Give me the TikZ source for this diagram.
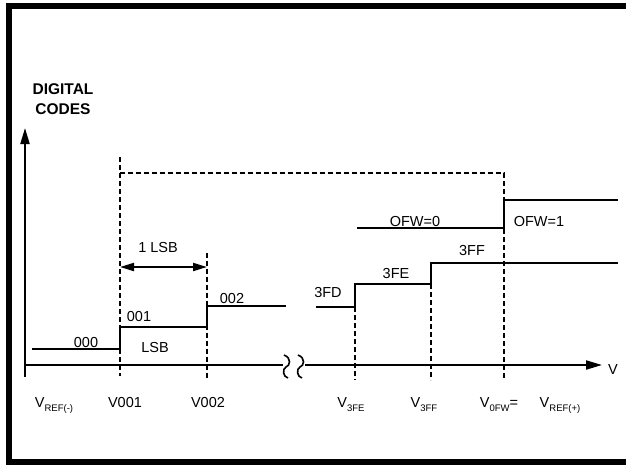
\documentclass[tikz,border=0pt]{standalone}
\usepackage{fontspec}
\setmainfont{Liberation Sans}
\usetikzlibrary{arrows.meta,positioning}
\tikzset{
  lbl/.style={font=\fontsize{14.5}{16}\selectfont, inner sep=0pt, anchor=base},
  hd/.style={font=\fontsize{15.5}{17}\selectfont\bfseries, inner sep=0pt, anchor=base},
  stair/.style={draw, line width=2pt},
  guide/.style={draw, line width=1.6pt, dash pattern=on 5pt off 3pt},
  axis/.style={draw, line width=2pt, -{Triangle[length=16pt,width=9pt]}},
  dim/.style={draw, line width=2pt, {Triangle[length=14pt,width=8pt]}-{Triangle[length=14pt,width=8pt]}},
  brk/.style={draw, line width=1.6pt}
}
\newcommand{\vsub}[1]{\raisebox{-4pt}{\fontsize{9.5}{10}\selectfont #1}}

\begin{document}
\begin{tikzpicture}[x=1pt, y=-1pt]
\useasboundingbox (0,0) rectangle (626,464);
% frame (open to the right)
\draw[line width=6pt] (650,6) -- (9,6) -- (9,461.5) -- (650,461.5);

% axes
\coordinate (ybot) at (25,377);
\coordinate (ytip) at (25,128);
\coordinate (org) at (25,365);
\coordinate (brkL) at (283,365);
\coordinate (brkR) at (305,365);
\coordinate (xtip) at (602,365);
\draw[axis] (ybot) -- (ytip);
\draw[line width=2pt] (org) -- (brkL);
\draw[axis] (brkR) -- (xtip);
\foreach \bx in {284,298}
  \draw[brk] (\bx,355) .. controls (\bx+8,358) and (\bx+6,366) .. (\bx+2,367)
             .. controls (\bx-2,369) and (\bx-1,377) .. (\bx+4,378);

% guide lines
\draw[guide] (120,157) -- (120,376);
\draw[guide] (120,173) -- (504,173) -- (504,378);
\draw[guide] (207,253) -- (207,380);
\draw[guide] (355,307) -- (355,380);
\draw[guide] (431,284) -- (431,380);

% transfer steps
\draw[stair] (32,349) -- (120,349) -- (120,327) -- (207,327) -- (207,306) -- (286,306);
\draw[stair] (316,307) -- (355,307) -- (355,284) -- (431,284) -- (431,263) -- (618,263);
\draw[stair] (357,228) -- (504,228) -- (504,200) -- (618,200);

% 1 LSB span
\coordinate (lsbL) at (120,267);
\coordinate (lsbR) at (207,267);
\draw[dim] (lsbL) -- (lsbR);

% labels
\node[hd] (dig) at (63,94) {DIGITAL};
\node[hd] (codes) at (63,114) {CODES};
\node[lbl] (c000) at (86,347) {000};
\node[lbl] (c001) at (139,321) {001};
\node[lbl] (lsb) at (155,352) {LSB};
\node[lbl] (c002) at (232,303) {002};
\node[lbl] (onelsb) at (158,252) {1 LSB};
\node[lbl] (c3fd) at (328,297) {3FD};
\node[lbl] (c3fe) at (396,278) {3FE};
\node[lbl] (c3ff) at (472,255) {3FF};
\node[lbl] (ofw0) at (415,226) {OFW=0};
\node[lbl] (ofw1) at (539,226) {OFW=1};
\node[lbl] (vax) at (613,374) {V};

% thresholds
\node[lbl] (vrefm) at (54,407) {V\vsub{REF(-)}};
\node[lbl] (v001) at (125,407) {V001};
\node[lbl] (v002) at (208,407) {V002};
\node[lbl] (v3fe) at (351,407) {V\vsub{3FE}};
\node[lbl] (v3ff) at (424,407) {V\vsub{3FF}};
\node[lbl] (v0fw) at (499,407) {V\vsub{0FW}=};
\node[lbl] (vrefp) at (560,407) {V\vsub{REF(+)}};
\end{tikzpicture}
\end{document}
